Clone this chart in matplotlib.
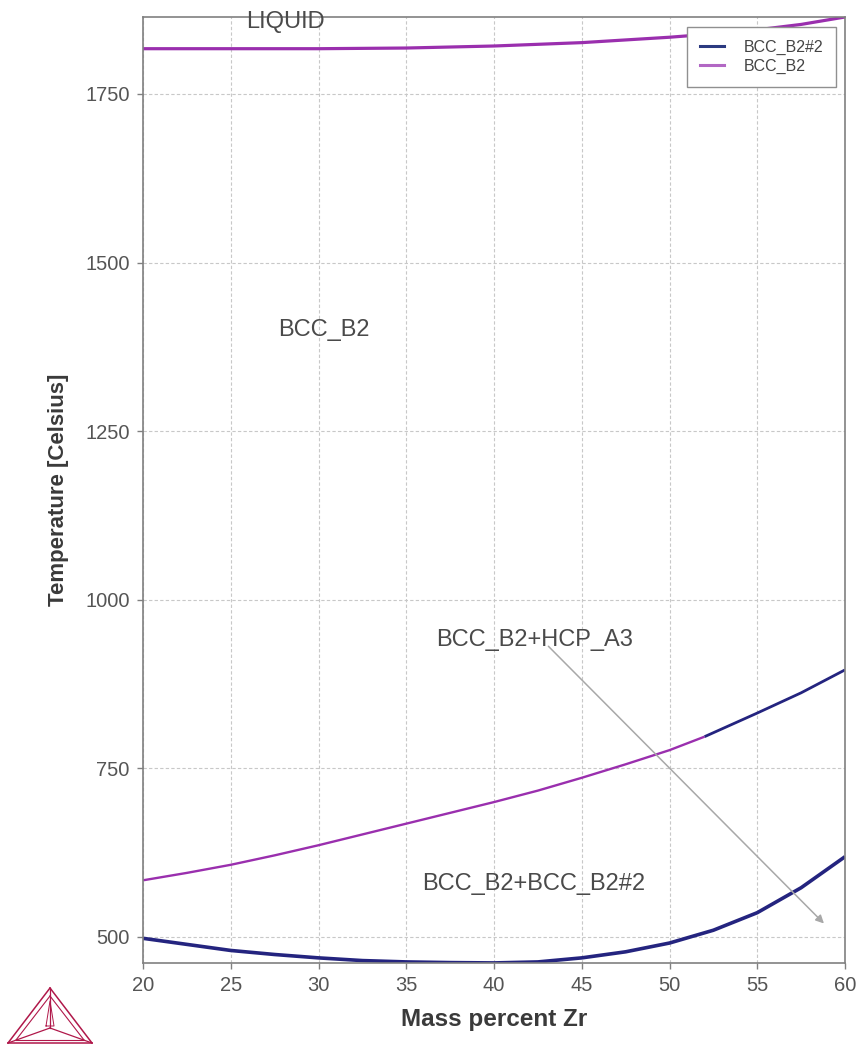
import matplotlib
matplotlib.use("Agg")
import matplotlib.pyplot as plt
from matplotlib.lines import Line2D

plt.rcParams['font.family'] = ['Liberation Sans', 'DejaVu Sans']

# Phase boundaries, Temperature [Celsius] vs mass percent Zr
liquidus_x = [20, 25, 30, 35, 40, 45, 50, 52, 55, 57.5, 60]
liquidus_t = [1817, 1817, 1817, 1818, 1821, 1826, 1834, 1838, 1845, 1853, 1864]

solvus_b2_x = [20, 22.5, 25, 27.5, 30, 32.5, 35, 37.5, 40, 42.5, 45, 47.5, 50, 52]
solvus_b2_t = [584, 595, 607, 621, 636, 652, 668, 684, 700, 717, 736, 756, 777, 797]

solvus_b2n2_x = [52, 55, 57.5, 60]
solvus_b2n2_t = [797, 832, 862, 896]

miscibility_x = [20, 22.5, 25, 27.5, 30, 32.5, 35, 37.5, 40, 42.5, 45, 47.5, 50, 52.5, 55, 57.5, 60]
miscibility_t = [498, 489, 480, 474, 469, 465, 463, 462, 461.5, 463, 469, 478, 491, 510, 536, 573, 619]

x_ticks = [20, 25, 30, 35, 40, 45, 50, 55, 60]
y_ticks = [500, 750, 1000, 1250, 1500, 1750]

region_labels = ["LIQUID", "BCC_B2", "BCC_B2+HCP_A3", "BCC_B2+BCC_B2#2"]
region_pos = [(25.9, 1857), (27.7, 1400), (36.7, 941), (35.9, 579)]

arrow_start = (43.1, 931)
arrow_end = (58.8, 520)

legend_labels = ["BCC_B2#2", "BCC_B2"]

PURPLE = "#9a2fae"
NAVY = "#24247f"
GRAY = "#808080"

fig = plt.figure(figsize=(8.59, 10.46), dpi=100)
ax = fig.add_axes([143 / 859, 1 - 963 / 1046, (845 - 143) / 859, (963 - 17) / 1046])

ax.plot(liquidus_x, liquidus_t, color=PURPLE, lw=2.3, solid_capstyle='butt')
ax.plot(solvus_b2_x, solvus_b2_t, color=PURPLE, lw=1.7, solid_capstyle='butt')
ax.plot(solvus_b2n2_x, solvus_b2n2_t, color=NAVY, lw=2.0, solid_capstyle='butt')
ax.plot(miscibility_x, miscibility_t, color=NAVY, lw=2.6, solid_capstyle='butt')

ax.set_xlim(20, 60)
ax.set_ylim(461.4, 1864)
ax.set_xticks(x_ticks)
ax.set_yticks(y_ticks)
ax.tick_params(axis='both', colors=GRAY, labelcolor="#555555", labelsize=14.5,
               length=4, width=1, direction='out', pad=5.5)
ax.grid(True, color="#c8c8c8", linestyle=(0, (3, 2)), linewidth=0.8)
for sp in ax.spines.values():
    sp.set_color(GRAY)
    sp.set_linewidth(1.2)

ax.set_xlabel("Mass percent Zr", fontsize=17.5, fontweight='bold', color="#3a3a3a", labelpad=9)
ax.set_ylabel("Temperature [Celsius]", fontsize=16, fontweight='bold', color="#3a3a3a", labelpad=12)

for txt, (tx, ty) in zip(region_labels, region_pos):
    ax.text(tx, ty, txt, fontsize=17, color="#4a4a4a", ha='left', va='center')

ax.annotate("", xy=arrow_end, xytext=arrow_start,
            arrowprops=dict(arrowstyle="-|>", color="#a8a8a8", lw=1.1,
                            mutation_scale=12, shrinkA=0, shrinkB=0))

handles = [Line2D([], [], color="#2b3a80", lw=2.2),
           Line2D([], [], color="#b267c4", lw=2.2)]
leg = ax.legend(handles, legend_labels, loc='upper right',
                bbox_to_anchor=(1 - 9 / 702, 1 - 10 / 946), fontsize=11.5,
                frameon=True, fancybox=False, framealpha=1.0, borderpad=0.8,
                labelspacing=0.25, handlelength=1.5, handletextpad=1.25,
                borderaxespad=0)
leg.get_frame().set_edgecolor("#909090")
leg.get_frame().set_linewidth(1.0)
for t in leg.get_texts():
    t.set_color("#444444")

# Logo in the lower left corner
logo = fig.add_axes([0 / 859, 0, 100 / 859, 62 / 1046])
logo.set_xlim(0, 100)
logo.set_ylim(0, 62)
logo.axis('off')
C = "#b0184a"
apex = (50, 58)
bl = (8, 3)
br = (92, 3)
ctr = (50, 18)
for (a, b) in [(apex, bl), (apex, br), (bl, br)]:
    logo.plot([a[0], b[0]], [a[1], b[1]], color=C, lw=1.1)
inner_apex = (50, 50)
inner_bl = (16, 6)
inner_br = (84, 6)
for (a, b) in [(inner_apex, inner_bl), (inner_apex, inner_br), (inner_bl, inner_br)]:
    logo.plot([a[0], b[0]], [a[1], b[1]], color=C, lw=0.8)
for v in [apex, bl, br]:
    logo.plot([v[0], ctr[0]], [v[1], ctr[1]], color=C, lw=0.9)
logo.plot([46, 54, 50, 46], [20, 20, 45, 20], color=C, lw=0.7)

fig.savefig("out.png", dpi=100)
